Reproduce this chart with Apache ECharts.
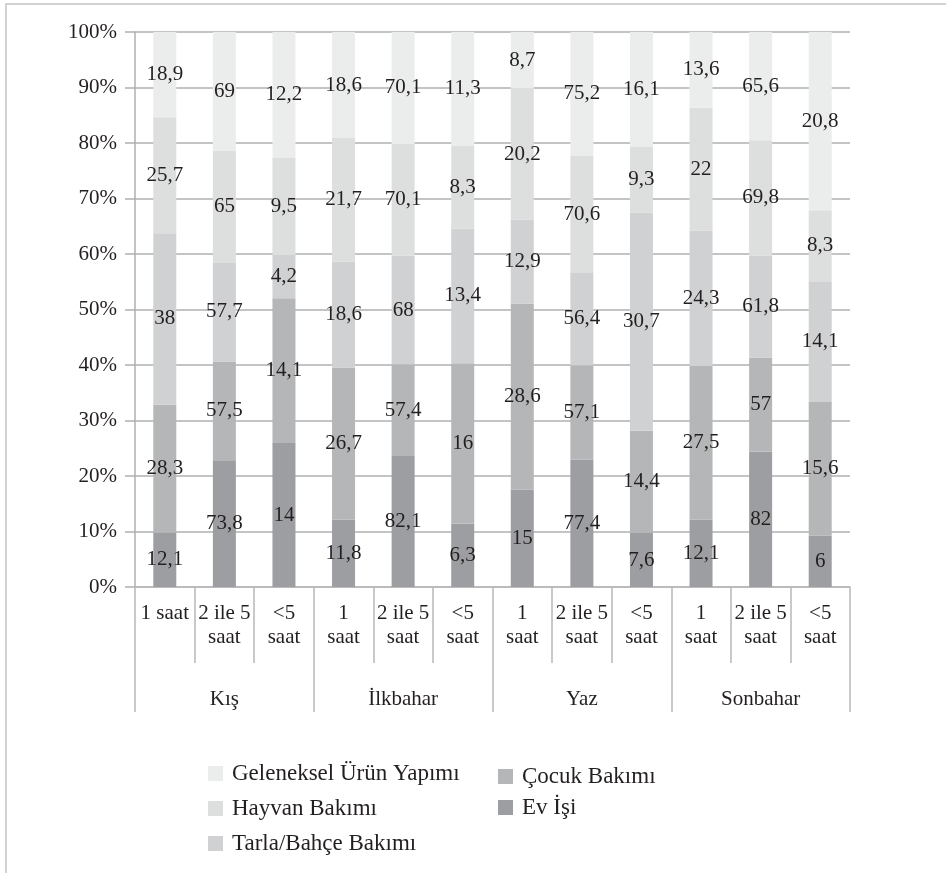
<!DOCTYPE html>
<html>
<head>
<meta charset="utf-8">
<script src="https://cdn.jsdelivr.net/npm/echarts@6/dist/echarts.min.js"></script>
<style>
  html, body { margin: 0; padding: 0; background: #fff; }
  #chart { width: 946px; height: 873px; }
</style>
</head>
<body>
<div id="chart"></div>
<script>
// sub categories (12 bars) and season groups
const subLabels = [
  '1 saat', '2 ile 5\nsaat', '<5\nsaat',
  '1\nsaat', '2 ile 5\nsaat', '<5\nsaat',
  '1\nsaat', '2 ile 5\nsaat', '<5\nsaat',
  '1\nsaat', '2 ile 5\nsaat', '<5\nsaat'
]
const seasons = ['Kış', 'İlkbahar', 'Yaz', 'Sonbahar']

// raw values as printed on the bars (bars are drawn as share of the bar total)
const evIsi      = [12.1, 73.8, 14,   11.8, 82.1, 6.3,  15,   77.4, 7.6,  12.1, 82,   6]
const cocuk      = [28.3, 57.5, 14.1, 26.7, 57.4, 16,   28.6, 57.1, 14.4, 27.5, 57,   15.6]
const tarla      = [38,   57.7, 4.2,  18.6, 68,   13.4, 12.9, 56.4, 30.7, 24.3, 61.8, 14.1]
const hayvan     = [25.7, 65,   9.5,  21.7, 70.1, 8.3,  20.2, 70.6, 9.3,  22,   69.8, 8.3]
const geleneksel = [18.9, 69,   12.2, 18.6, 70.1, 11.3, 8.7,  75.2, 16.1, 13.6, 65.6, 20.8]

const yTicks = ['0%', '10%', '20%', '30%', '40%', '50%', '60%', '70%', '80%', '90%', '100%']

const font = '"Liberation Serif", "DejaVu Serif", serif'
const textColor = '#231f20'

const seriesDefs = [
  { name: 'Ev İşi', raw: evIsi, color: '#9c9ea1' },
  { name: 'Çocuk Bakımı', raw: cocuk, color: '#b4b6b8' },
  { name: 'Tarla/Bahçe Bakımı', raw: tarla, color: '#d0d1d3' },
  { name: 'Hayvan Bakımı', raw: hayvan, color: '#dddede' },
  { name: 'Geleneksel Ürün Yapımı', raw: geleneksel, color: '#ebecec' }
]

const totals = subLabels.map((_, i) => seriesDefs.reduce((s, d) => s + d.raw[i], 0))

const chart = echarts.init(document.getElementById('chart'))

const legendText = { fontFamily: font, fontSize: 23, color: textColor, lineHeight: 22, padding: [0, 0, 0, 4] }

const option = {
  animation: false,
  textStyle: { fontFamily: font },
  graphic: [
    {
      type: 'rect',
      shape: { x: 6, y: 4, width: 1000, height: 1000 },
      style: { fill: 'none', stroke: '#c4c4c4', lineWidth: 1.5 },
      silent: true
    }
  ],
  grid: { left: 135, right: 96, top: 32, bottom: 286 },
  legend: [
    {
      orient: 'vertical',
      left: 203,
      top: 757,
      itemWidth: 15,
      itemHeight: 15,
      itemGap: 12,
      icon: 'rect',
      data: ['Geleneksel Ürün Yapımı', 'Hayvan Bakımı', 'Tarla/Bahçe Bakımı'],
      textStyle: legendText
    },
    {
      orient: 'vertical',
      left: 493,
      top: 760,
      itemWidth: 15,
      itemHeight: 15,
      itemGap: 8,
      icon: 'rect',
      data: ['Çocuk Bakımı', 'Ev İşi'],
      textStyle: legendText
    }
  ],
  xAxis: [
    {
      type: 'category',
      data: subLabels,
      position: 'bottom',
      axisLine: { show: true, lineStyle: { color: '#b8b8b8', width: 1.5 } },
      axisTick: { show: true, length: 76, interval: 0, lineStyle: { color: '#b8b8b8', width: 1.5 } },
      axisLabel: {
        interval: 0,
        margin: 14,
        fontFamily: font,
        fontSize: 21,
        lineHeight: 24,
        color: textColor,
        align: 'center'
      }
    },
    {
      type: 'category',
      data: seasons,
      position: 'bottom',
      axisLine: { show: false },
      axisTick: { show: true, length: 125, interval: 0, lineStyle: { color: '#b8b8b8', width: 1.5 } },
      axisLabel: {
        interval: 0,
        margin: 102,
        fontFamily: font,
        fontSize: 21,
        color: textColor
      }
    }
  ],
  yAxis: {
    type: 'value',
    min: 0,
    max: 100,
    interval: 10,
    axisLine: { show: true, lineStyle: { color: '#b0b0b0', width: 1.5 } },
    axisTick: { show: true, length: 10, lineStyle: { color: '#b0b0b0', width: 1.5 } },
    splitLine: { show: true, lineStyle: { color: '#b0b0b0', width: 1.5 } },
    axisLabel: {
      margin: 18,
      fontFamily: font,
      fontSize: 21,
      color: textColor,
      formatter: (v) => yTicks[Math.round(v / 10)]
    }
  },
  series: seriesDefs.map((d) => ({
    name: d.name,
    type: 'bar',
    stack: 'total',
    barWidth: 23,
    xAxisIndex: 0,
    itemStyle: { color: d.color },
    label: {
      show: true,
      position: 'inside',
      fontFamily: font,
      fontSize: 21,
      color: textColor,
      formatter: (p) => String(d.raw[p.dataIndex]).replace('.', ',')
    },
    labelLayout: { hideOverlap: false },
    data: d.raw.map((v, i) => (v / totals[i]) * 100)
  }))
}

chart.setOption(option)
</script>
</body>
</html>
